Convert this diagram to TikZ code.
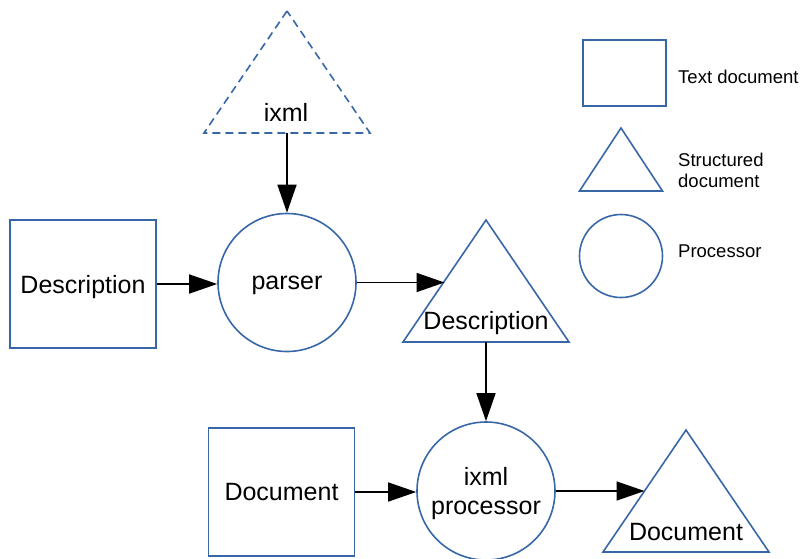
\documentclass[tikz,border=0pt]{standalone}
\usepackage{fontspec}
\setmainfont{Liberation Sans}
\usetikzlibrary{arrows.meta,shapes.geometric,positioning}
\definecolor{docblue}{RGB}{56,103,168}

\begin{document}
\begin{tikzpicture}[x=1pt,y=-1pt,
	every node/.style={font=\fontsize{25}{29}\selectfont,inner sep=0pt},
	textdoc/.style={draw=docblue,line width=1.6pt,minimum width=146pt,minimum height=128pt,text depth=0pt},
	proc/.style={circle,draw=docblue,line width=1.6pt,minimum size=138pt,align=center,text depth=0pt},
	structdoc/.style={isosceles triangle,isosceles triangle stretches,shape border rotate=90,
		draw=docblue,line width=1.6pt,minimum width=166pt,minimum height=122pt,outer sep=0pt,anchor=apex},
	flow/.style={-{Triangle[length=28pt,width=19pt]},line width=1.6pt},
	legendtext/.style={font=\fontsize{18.5}{21}\selectfont,anchor=west,align=left}]
	\useasboundingbox (0,0) rectangle (807,558);
	\node[structdoc,dash pattern=on 8pt off 5pt] (grammar) at (287,11) {};
	\node (grammarlbl) at (286,112) {ixml};
	\node[textdoc] (desctext) at (83,284) {Description};
	\node[proc] (parser) at (287,282.5) {parser};
	\node[structdoc] (desctree) at (486,220) {};
	\node (desclbl) at (486,323) {Description};
	\node[textdoc] (doctext) at (281.5,492) {Document};
	\node[proc] (processor) at (486,491) {ixml\\processor};
	\node[structdoc] (doctree) at (686,430) {};
	\node (doclbl) at (686,532) {Document};
	\draw[flow] (grammar.lower side) -- (parser.north);
	\draw[flow] (desctext.east) -- (desctext.east -| parser.west);
	\draw[flow] (parser.east) -- (parser.east -| desctree.left side);
	\draw[flow] (desctree.lower side) -- (processor.north);
	\draw[flow] (doctext.east) -- (doctext.east -| processor.west);
	\draw[flow] (processor.east) -- (processor.east -| doctree.left side);
	\node[textdoc,minimum width=83pt,minimum height=66pt] (keytext) at (624.5,73) {};
	\node[structdoc,minimum width=83pt,minimum height=63pt] (keytree) at (621,128) {};
	\node[proc,minimum size=83pt] (keyproc) at (621,256) {};
	\node[legendtext] (keytextlbl) at (678,77) {Text document};
	\node[legendtext] (keytreelbl) at (678,170) {Structured\\document};
	\node[legendtext] (keyproclbl) at (678,251) {Processor};
\end{tikzpicture}
\end{document}
